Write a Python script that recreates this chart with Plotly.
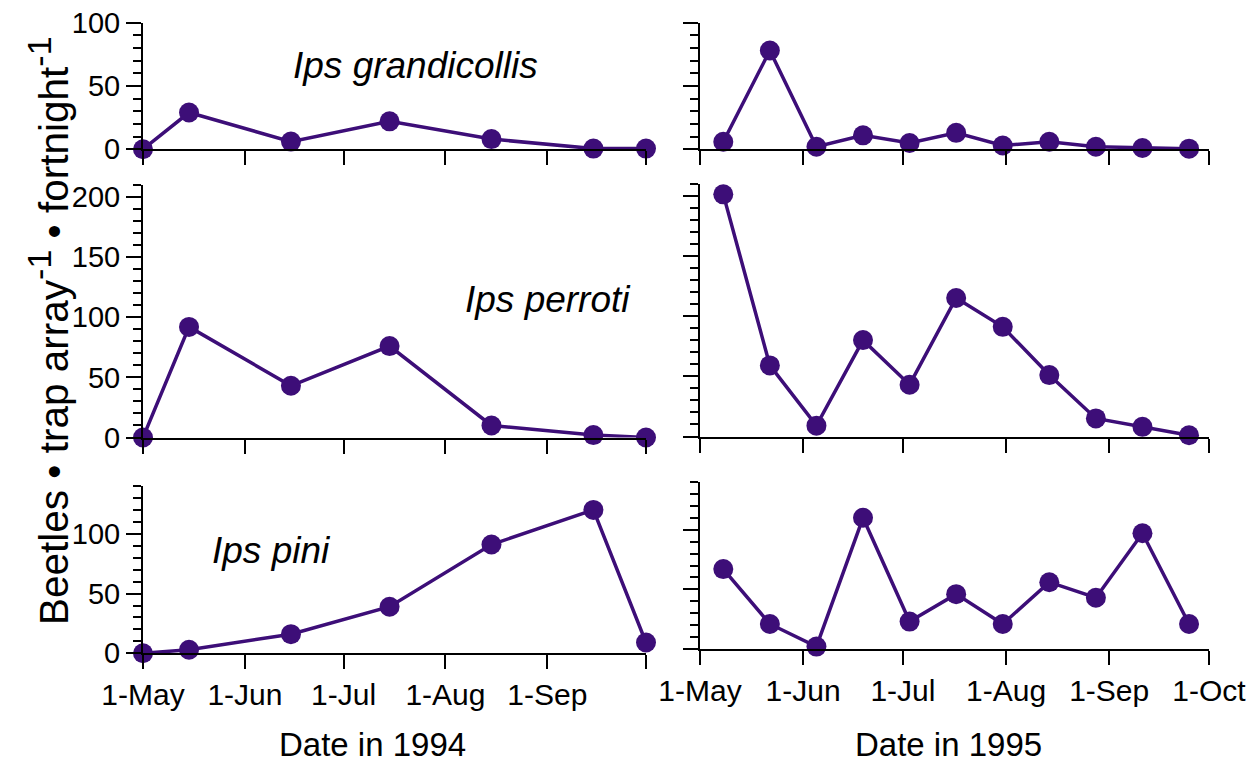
import plotly.graph_objects as go

# ---------------- data ----------------
dates_1994 = ['1994-05-01', '1994-05-15', '1994-06-15', '1994-07-15',
              '1994-08-15', '1994-09-15', '1994-10-01']
dates_1995 = ['1995-05-08', '1995-05-22', '1995-06-05', '1995-06-19',
              '1995-07-03', '1995-07-17', '1995-07-31', '1995-08-14',
              '1995-08-28', '1995-09-11', '1995-09-25']

grandicollis_1994 = [0, 29, 6, 22, 8, 0.5, 0.5]
grandicollis_1995 = [6, 78, 2, 11, 5, 13, 3, 6, 2, 1, 0.5]
perroti_1994 = [0, 92, 43, 76, 10, 2, 0]
perroti_1995 = [201, 59, 9, 80, 43, 115, 91, 51, 15, 8, 1]
pini_1994 = [0, 3, 16, 39, 91, 120, 9]
pini_1995 = [67, 21, 2, 110, 23, 46, 21, 56, 43, 97, 21]

ticks_1994 = ['1994-05-01', '1994-06-01', '1994-07-01', '1994-08-01', '1994-09-01', '1994-10-01']
labels_1994 = ['1-May', '1-Jun', '1-Jul', '1-Aug', '1-Sep', '']
ticks_1995 = ['1995-05-01', '1995-06-01', '1995-07-01', '1995-08-01', '1995-09-01', '1995-10-01']
labels_1995 = ['1-May', '1-Jun', '1-Jul', '1-Aug', '1-Sep', '1-Oct']

species = ['Ips grandicollis', 'Ips perroti', 'Ips pini']
y_ranges = [[0, 100], [0, 210], [0, 140]]

# ---------------- style ----------------
W, H = 1260, 765
LINE = '#3d0e78'
FONT = 'Arial, Liberation Sans, Helvetica, sans-serif'


def px(x):
    return x / W


def py(y):
    return 1 - y / H


# column x-extents and row y-extents in pixels
cols = [(143, 646), (700, 1209)]
rows = {
    (0, 0): (22.7, 149.2), (0, 1): (22.7, 149.3),
    (1, 0): (185, 437.5), (1, 1): (183.5, 436.5),
    (2, 0): (486, 653.3), (2, 1): (482, 649),
}

series = [
    [(dates_1994, grandicollis_1994), (dates_1995, grandicollis_1995)],
    [(dates_1994, perroti_1994), (dates_1995, perroti_1995)],
    [(dates_1994, pini_1994), (dates_1995, pini_1995)],
]

fig = go.Figure()
layout = {}
n = 0
for r in range(3):
    for c in range(2):
        n += 1
        sfx = '' if n == 1 else str(n)
        xs, ys = series[r][c]
        fig.add_trace(go.Scatter(
            x=xs, y=ys, mode='lines+markers',
            line=dict(color=LINE, width=3.5),
            marker=dict(color=LINE, size=20),
            cliponaxis=False, showlegend=False,
            xaxis='x' + sfx, yaxis='y' + sfx))
        x0, x1 = cols[c]
        ytop, ybot = rows[(r, c)]
        year_ticks = ticks_1994 if c == 0 else ticks_1995
        year_labels = labels_1994 if c == 0 else labels_1995
        layout['xaxis' + sfx] = dict(
            domain=[px(x0), px(x1)], anchor='y' + sfx, type='date',
            range=[year_ticks[0], year_ticks[-1]], automargin=False,
            tickmode='array', tickvals=year_ticks, ticktext=year_labels,
            showticklabels=(r == 2), ticks='outside', ticklen=14, tickwidth=2,
            tickcolor='black', showline=True, linecolor='black', linewidth=2,
            showgrid=False, zeroline=False,
            tickfont=dict(family=FONT, size=30, color='black'))
        layout['yaxis' + sfx] = dict(
            domain=[py(ybot), py(ytop)], anchor='x' + sfx, automargin=False,
            range=y_ranges[r], tickmode='linear', tick0=0, dtick=50,
            showticklabels=(c == 0), ticks='outside', ticklen=15, tickwidth=2,
            tickcolor='black', showline=True, linecolor='black', linewidth=2,
            showgrid=False, zeroline=False,
            minor=dict(dtick=10, tick0=0, ticks='outside', ticklen=8,
                       tickwidth=2, tickcolor='black', showgrid=False),
            tickfont=dict(family=FONT, size=29, color='black'))

annotations = [
    dict(text='<i>' + species[0] + '</i>', x=px(415), y=py(65)),
    dict(text='<i>' + species[1] + '</i>', x=px(548), y=py(300)),
    dict(text='<i>' + species[2] + '</i>', x=px(271), y=py(550)),
]
for a in annotations:
    a.update(xref='paper', yref='paper', showarrow=False,
             font=dict(family=FONT, size=37, color='black'),
             xanchor='center', yanchor='middle')

SUP = '<sup><span style="font-size:34px">-1</span></sup>'
annotations += [
    dict(text='Date in 1994', x=px(372), y=py(744), xref='paper', yref='paper',
         showarrow=False, xanchor='center', yanchor='middle',
         font=dict(family=FONT, size=33, color='black')),
    dict(text='Date in 1995', x=px(948), y=py(744), xref='paper', yref='paper',
         showarrow=False, xanchor='center', yanchor='middle',
         font=dict(family=FONT, size=33, color='black')),
    dict(text='Beetles • trap array' + SUP + ' • fortnight' + SUP,
         x=px(48), y=py(331), xref='paper', yref='paper', textangle=-90,
         showarrow=False, xanchor='center', yanchor='middle',
         font=dict(family=FONT, size=40.5, color='black')),
]

fig.update_layout(
    width=W, height=H, margin=dict(l=0, r=0, t=0, b=0),
    paper_bgcolor='white', plot_bgcolor='white',
    annotations=annotations, **layout)

fig.write_html('out.html')
